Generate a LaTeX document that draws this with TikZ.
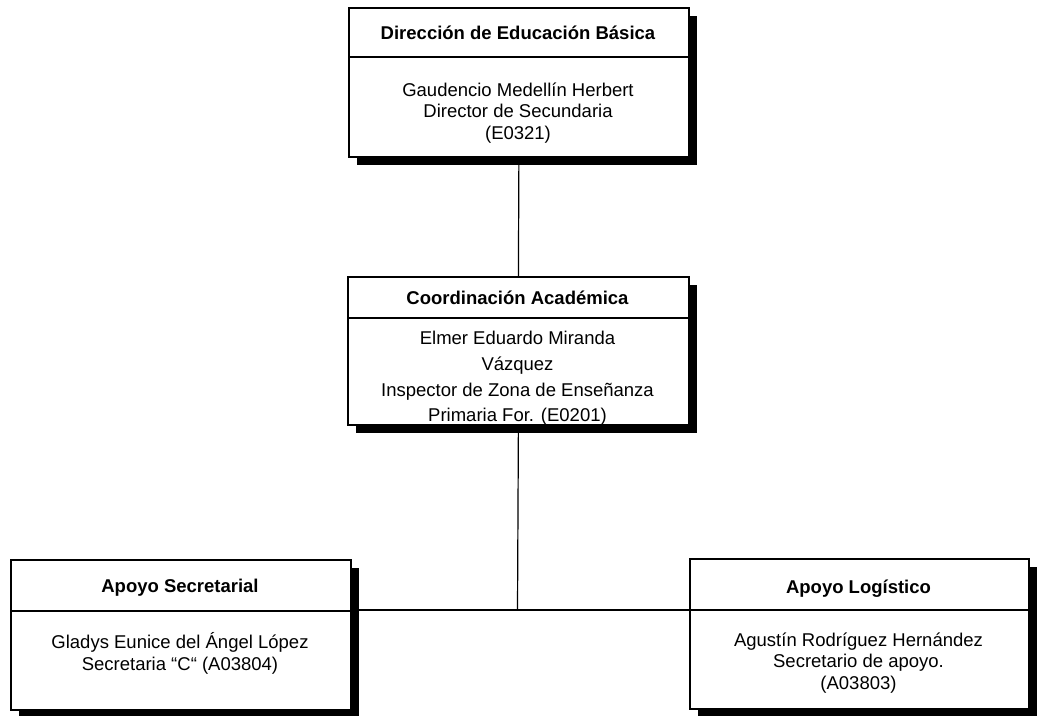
\documentclass[tikz,border=0pt]{standalone}
\usepackage{fontspec}
\setmainfont{Liberation Sans}
\begin{document}
\begin{tikzpicture}[x=1pt,y=-1pt,
  box/.style={draw=black, line width=1.8pt, fill=white, inner sep=0pt, anchor=north west},
  shade/.style={fill=black, draw=none},
  divider/.style={line width=1.8pt},
  conn/.style={line width=1.2pt},
  title/.style={font=\bfseries\fontsize{18.5}{22}\selectfont, anchor=base, inner sep=0pt},
  body/.style={font=\fontsize{18.5}{22}\selectfont, anchor=base, inner sep=0pt}]
\useasboundingbox (0,0) rectangle (1044,715);
% shadows
\fill[shade] (357,16) rectangle (697,165);
\fill[shade] (356,285) rectangle (697,433);
\fill[shade] (19,568) rectangle (359,718);
\fill[shade] (698,567) rectangle (1037,717);
% connectors
\coordinate (j) at (517.5,610);
% boxes
\node[box, minimum width=340pt, minimum height=149pt] (top) at (348,7) {};
\node[box, minimum width=341pt, minimum height=148pt] (mid) at (347,276) {};
\node[box, minimum width=340pt, minimum height=150pt] (sl) at (10,559) {};
\node[box, minimum width=339pt, minimum height=150pt] (lg) at (689,558) {};
\draw[conn] (top.south) -- (mid.north);
\draw[conn] (mid.south) -- (j);
\draw[conn] (sl.east |- j) -- (lg.west |- j);
% dividers
\draw[divider] (top.west |- 0,57) -- (top.east |- 0,57);
\draw[divider] (mid.west |- 0,318) -- (mid.east |- 0,318);
\draw[divider] (sl.west |- 0,611) -- (sl.east |- 0,611);
\draw[divider] (lg.west |- 0,610) -- (lg.east |- 0,610);
% texts
\node[title] (t1) at (518,39) {Dirección de Educación Básica};
\node[body] (t1a) at (518,96) {Gaudencio Medellín Herbert};
\node[body] (t1b) at (518,117.5) {Director de Secundaria};
\node[body] (t1c) at (518,139) {(E0321)};
\node[title] (t2) at (517.5,304.5) {Coordinación Académica};
\node[body] (t2a) at (517.5,344.6) {Elmer Eduardo Miranda};
\node[body] (t2b) at (517.5,370.3) {Vázquez};
\node[body] (t2c) at (517.5,396) {Inspector de Zona de Enseñanza};
\node[body] (t2d) at (517.5,421.6) {Primaria For. (E0201)};
\node[title] (t3) at (180,592.6) {Apoyo Secretarial};
\node[body] (t3a) at (180,648.6) {Gladys Eunice del Ángel López};
\node[body] (t3b) at (180,670.6) {Secretaria “C“ (A03804)};
\node[title] (t4) at (858.5,593) {Apoyo Logístico};
\node[body] (t4a) at (858.5,646) {Agustín Rodríguez Hernández};
\node[body] (t4b) at (858.5,667.5) {Secretario de apoyo.};
\node[body] (t4c) at (858.5,689) {(A03803)};
\end{tikzpicture}
\end{document}
